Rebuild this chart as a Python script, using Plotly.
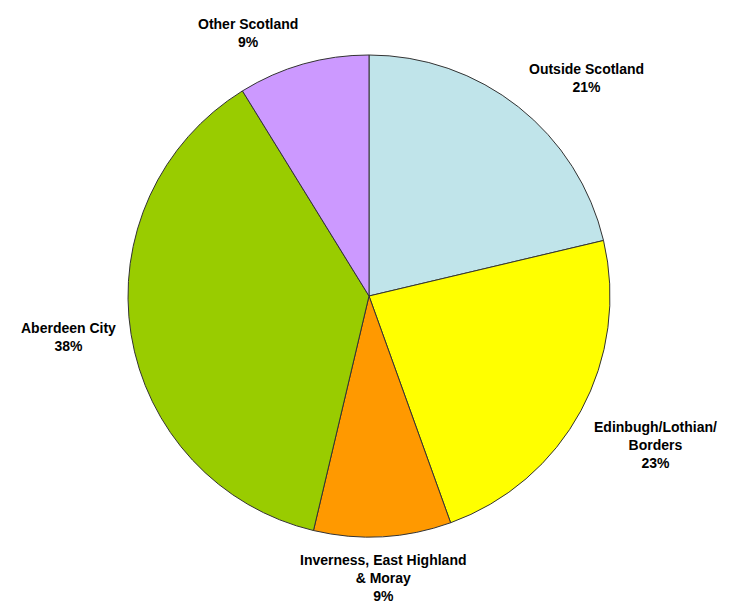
import math
import plotly.graph_objects as go

labels = ["Outside Scotland", "Edinbugh/Lothian/<br>Borders", "Inverness, East Highland<br>& Moray",
          "Aberdeen City", "Other Scotland"]
values = [21.3, 23.2, 9.2, 37.5, 8.8]
colors = ["#C0E4EA", "#FFFF00", "#FF9900", "#99CC00", "#CC99FF"]

W, H = 733, 615
L, R, T, B = 120, 131, 47, 86

fig = go.Figure(go.Pie(
    labels=labels,
    values=values,
    sort=False,
    direction="clockwise",
    rotation=0,
    marker=dict(colors=colors, line=dict(color="#333333", width=1)),
    textinfo="none",
    showlegend=False,
    hoverinfo="label+percent",
))

# label placement derived from slice mid-angles
pw, ph = W - L - R, H - T - B
rad = min(pw, ph) / 2.0
cx, cy = L + pw / 2.0, T + ph / 2.0
dist = rad + 13
total = sum(values)
cum = 0
annotations = []
for lab, v in zip(labels, values):
    mid = (cum + v / 2.0) / total * 2 * math.pi
    cum += v
    s, c = math.sin(mid), math.cos(mid)
    px = cx + dist * s
    py = cy - dist * c
    xa = "left" if s > 0.2 else ("right" if s < -0.2 else "center")
    ya = "bottom" if c > 0.2 else ("top" if c < -0.2 else "middle")
    pct = int(v / total * 100 + 0.5)
    annotations.append(dict(
        x=(px - L) / pw, y=1 - (py - T) / ph, xref="paper", yref="paper",
        xanchor=xa, yanchor=ya, showarrow=False, align="center",
        text=f"<b>{lab}</b><br><b>{pct}%</b>",
        font=dict(family="Liberation Sans", size=14, color="black"),
    ))

fig.update_layout(
    width=W, height=H,
    margin=dict(l=L, r=R, t=T, b=B, autoexpand=False),
    paper_bgcolor="white",
    plot_bgcolor="white",
    annotations=annotations,
)
fig.write_html("out.html")
